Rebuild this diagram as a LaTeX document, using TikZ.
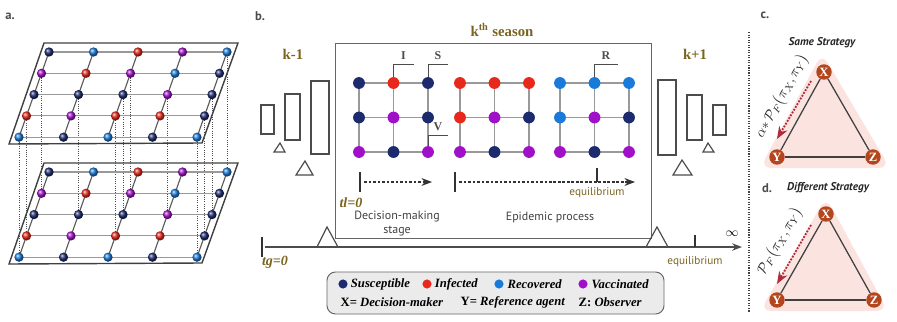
\documentclass[tikz,border=0pt]{standalone}
\usepackage{fontspec}
\setmainfont{Liberation Serif}
\setsansfont{PT Sans}
\usepackage{amsmath, amssymb}
\usepackage{xcolor}
\usepackage{tikz}
\usetikzlibrary{arrows.meta, positioning, shapes.geometric}

\definecolor{sus}{HTML}{1C2B6E}
\definecolor{inf}{HTML}{E8281A}
\definecolor{rec}{HTML}{1A7AD9}
\definecolor{vac}{HTML}{A010C8}
\definecolor{timecol}{HTML}{7A6420}
\definecolor{rust}{HTML}{B4461E}
\definecolor{blush}{HTML}{FBE4E0}
\definecolor{flowred}{HTML}{B22A3A}

\begin{document}
\begin{tikzpicture}[
    >=Stealth,
    x=0.025cm, y=-0.025cm,
    agent/.style={
        circle, inner sep=0pt, minimum size=6.6pt
    },
    site/.style={
        circle, inner sep=0pt, minimum size=8.4pt
    },
    player/.style={
        circle, fill=rust, text=white, inner sep=0pt, minimum size=11pt,
        font=\bfseries\fontsize{9}{9}\selectfont
    },
    tag/.style={
        font=\sffamily\bfseries\fontsize{9}{10}\selectfont, text=black!70
    },
    timelab/.style={
        font=\bfseries\fontsize{10.5}{12}\selectfont, text=timecol
    },
    clock/.style={
        font=\bfseries\itshape\fontsize{10}{12}\selectfont, text=timecol
    },
    eqlab/.style={
        font=\sffamily\fontsize{8}{9}\selectfont, text=timecol
    },
    note/.style={
        font=\sffamily\fontsize{8.5}{9.5}\selectfont, text=black!75, align=center
    },
    callout/.style={
        font=\bfseries\fontsize{8.5}{9}\selectfont
    },
    legend/.style={
        font=\bfseries\itshape\fontsize{9}{11}\selectfont, inner sep=1pt
    },
    dotkey/.style={
        circle, inner sep=0pt, minimum size=6.5pt
    },
    strat/.style={
        font=\sffamily\bfseries\itshape\fontsize{8}{9}\selectfont, text=black!85
    },
    payoff/.style={
        text=black!85, inner sep=0pt
    },
    bar/.style={
        draw=black!70, line width=0.85pt
    },
    edge/.style={
        draw=black!75, line width=0.9pt
    },
    tick/.style={
        draw=black!80, line width=1pt
    },
    influence/.style={
        ->, flowred, densely dotted, line width=1.3pt
    }
]

\useasboundingbox (0,0) rectangle (897,322);

% a. two layers
\node[tag] (taga) at (10,16) {a.};

\foreach \dy in {0,120}
    \draw[black!75, line width=1pt] (44,43+\dy) -- (238,43+\dy) -- (202,143+\dy) -- (9,144+\dy) -- cycle;

\foreach \dy/\pl in {0/up, 120/low}
    \foreach \r in {0,...,4}
        \foreach \c in {0,...,4}
            \coordinate (\pl-\r-\c) at ({49+44.5*\c-7.5*\r}, {52+21.3*\r+\dy});

\foreach \r/\c in {4/0, 3/0, 1/0, 2/1, 3/2, 2/2, 1/2, 2/3, 4/4, 3/4, 2/4, 0/4}
    \draw[densely dotted, black!70, line width=0.6pt] (up-\r-\c) -- (low-\r-\c);

\foreach \pl in {up, low}
    \foreach \i in {0,...,4} {
        \draw[black!40, line width=0.8pt] (\pl-\i-0) -- (\pl-\i-4);
        \draw[black!65, line width=0.8pt] (\pl-0-\i) -- (\pl-4-\i);
    }

\foreach \pl in {up, low}
    \foreach \clr [count=\k from 0] in {sus,rec,inf,vac,rec, vac,inf,vac,rec,sus, sus,sus,sus,vac,sus, inf,vac,inf,inf,sus, rec,sus,rec,sus,rec} {
        \pgfmathtruncatemacro\r{floor(\k/5)}
        \pgfmathtruncatemacro\c{mod(\k,5)}
        \node[agent, ball color=\clr] (\pl-ball-\r-\c) at (\pl-\r-\c) {};
    }

% b. seasons
\node[tag] (tagb) at (260,16) {b.};
\node[timelab] (season) at (502,30) {k\textsuperscript{th} season};
\draw[black!60, line width=0.7pt] (335,43) rectangle (651,238);

\node[timelab] (prev) at (293,54) {k-1};
\node[timelab] (next) at (695,54) {k+1};

\draw[bar] (261,105) rectangle (274,134);
\draw[bar] (285,94) rectangle (300,140);
\draw[bar] (311,81) rectangle (329,154);
\draw[bar] (658,80) rectangle (676,155);
\draw[bar] (687,95) rectangle (702,140);
\draw[bar] (713,105) rectangle (726,135);

\draw[bar] (274,152) -- (280,143) -- (285,152) -- cycle;
\draw[bar] (296,175) -- (305,161) -- (313,175) -- cycle;
\draw[bar] (703,152) -- (708,143) -- (714,152) -- cycle;
\draw[bar] (673,175) -- (682,160) -- (692,175) -- cycle;

\draw[bar] (317,247) -- (327,227) -- (338,247);
\draw[bar] (646,247) -- (657,227) -- (668,247);

\coordinate (tg0) at (265,247);
\coordinate (tend) at (742,247);
\draw[-{Stealth[length=7pt]}, black!70, line width=1.5pt] (tg0) -- (tend);
\draw[tick] (262,237) -- (262,257);
\draw[tick] (695,235) -- (695,247);

\node[clock] (tglab) at (275,262) {tg=0};
\node[font=\fontsize{9}{9}\selectfont] (infty) at (732,234) {$\infty$};
\node[eqlab] (eqglobal) at (695,262) {equilibrium};

% b. lattices inside the season
\foreach \gx/\g in {359/dm, 460/ep, 560/eq}
    \foreach \r in {0,1,2}
        \foreach \c in {0,1,2}
            \coordinate (\g-\r-\c) at ({\gx+34.5*\c}, {83+34.5*\r});

\foreach \g in {dm, ep, eq}
    \foreach \i in {0,1,2} {
        \draw[black!40, line width=1.2pt] (\g-\i-0) -- (\g-\i-2);
        \draw[black!40, line width=1.2pt] (\g-0-\i) -- (\g-2-\i);
    }

\foreach \g/\cols in {dm/{sus,inf,sus,sus,vac,sus,vac,sus,vac}, ep/{inf,inf,inf,inf,vac,sus,vac,sus,vac}, eq/{rec,rec,rec,rec,vac,sus,vac,sus,vac}}
    \foreach \clr [count=\k from 0] in \cols {
        \pgfmathtruncatemacro\r{floor(\k/3)}
        \pgfmathtruncatemacro\c{mod(\k,3)}
        \node[site, fill=\clr] (\g-site-\r-\c) at (\g-\r-\c) {};
    }

\draw[black!70, line width=0.7pt] (dm-site-0-1.north) |- ++(20,-12) node[callout, pos=0.75, above] (labI) {I};
\draw[black!70, line width=0.7pt] (dm-site-0-2.north) |- ++(20,-12) node[callout, pos=0.75, above] (labS) {S};
\draw[black!70, line width=0.7pt] (dm-site-2-2.north) |- ++(20,-10) node[callout, pos=0.75, above] (labV) {V};
\draw[black!70, line width=0.7pt] (eq-site-0-1.north) |- ++(23,-12) node[callout, pos=0.75, above] (labR) {R};

\coordinate (tl0) at (364,182);
\coordinate (dmend) at (432,182);
\coordinate (epstart) at (459,182);
\coordinate (epend) at (635,182);
\draw[tick] (360,172) -- (360,192);
\draw[tick] (455,172) -- (455,192);
\draw[tick] (597,168) -- (597,182);
\draw[->, black!80, dash pattern=on 2pt off 1.2pt, line width=1pt] (tl0) -- (dmend);
\draw[->, black!80, dash pattern=on 2pt off 1.2pt, line width=1pt] (epstart) -- (epend);

\node[clock] (tllab) at (351,203) {tl=0};
\node[note] (dmstage) at (397,223.5) {Decision-making\\stage};
\node[note] (epi) at (550,217) {Epidemic process};
\node[eqlab] (eqlocal) at (597,193) {equilibrium};

% b. legend
\draw[rounded corners=6pt, draw=black!60, fill=black!8, line width=0.7pt] (327,272) rectangle (664,314);

\node[dotkey, fill=sus] (ksus) at (343,284) {};
\node[legend, right=1pt of ksus] (lsus) {Susceptible};
\node[dotkey, fill=inf] (kinf) at (427,284) {};
\node[legend, right=1pt of kinf] (linf) {Infected};
\node[dotkey, fill=rec] (krec) at (499,284) {};
\node[legend, right=1.5pt of krec] (lrec) {Recovered};
\node[dotkey, fill=vac] (kvac) at (583,284) {};
\node[legend, right=1.5pt of kvac] (lvac) {Vaccinated};

\node[legend, anchor=west] (lx) at (339,302) {\textup{X=} Decision-maker};
\node[legend, anchor=west] (ly) at (459,302) {\textup{Y=} Reference agent};
\node[legend, anchor=west] (lz) at (577,302) {\textup{Z:} Observer};

% c. and d. triads
\draw[densely dotted, black!75, line width=0.8pt] (749,32) -- (749,312);

\node[tag] (tagc) at (765,15) {c.};
\node[strat] (same) at (822,43) {Same Strategy};
\fill[blush, rounded corners=8pt] (822,53) -- (890,168) -- (760,168) -- cycle;

\node[player] (cX) at (824,72) {X};
\node[player] (cY) at (777,157) {Y};
\node[player] (cZ) at (873,157) {Z};
\draw[edge] (cX) -- (cY);
\draw[edge] (cY) -- (cZ);
\draw[edge] (cZ) -- (cX);

\coordinate (cfrom) at (811,81);
\coordinate (cto) at (777,139);
\draw[influence] (cfrom) -- (cto);
\node[payoff, rotate=61] (cpay) at (782,96) {$\alpha{*}\,\mathcal{P}_{F}\bigl(\pi_{X},\pi_{Y}\bigr)$};

\node[tag] (tagd) at (767,188) {d.};
\node[strat] (diff) at (828,188) {Different Strategy};
\fill[blush, rounded corners=8pt] (826,197) -- (888,311) -- (760,311) -- cycle;

\node[player] (dX) at (826,214) {X};
\node[player] (dY) at (777,300) {Y};
\node[player] (dZ) at (874,300) {Z};
\draw[edge] (dX) -- (dY);
\draw[edge] (dY) -- (dZ);
\draw[edge] (dZ) -- (dX);

\coordinate (dfrom) at (811,225);
\coordinate (dto) at (777,284);
\draw[influence] (dfrom) -- (dto);
\node[payoff, rotate=60] (dpay) at (780,241) {$\mathcal{P}_{F}\bigl(\pi_{X},\pi_{Y}\bigr)$};

\end{tikzpicture}
\end{document}
